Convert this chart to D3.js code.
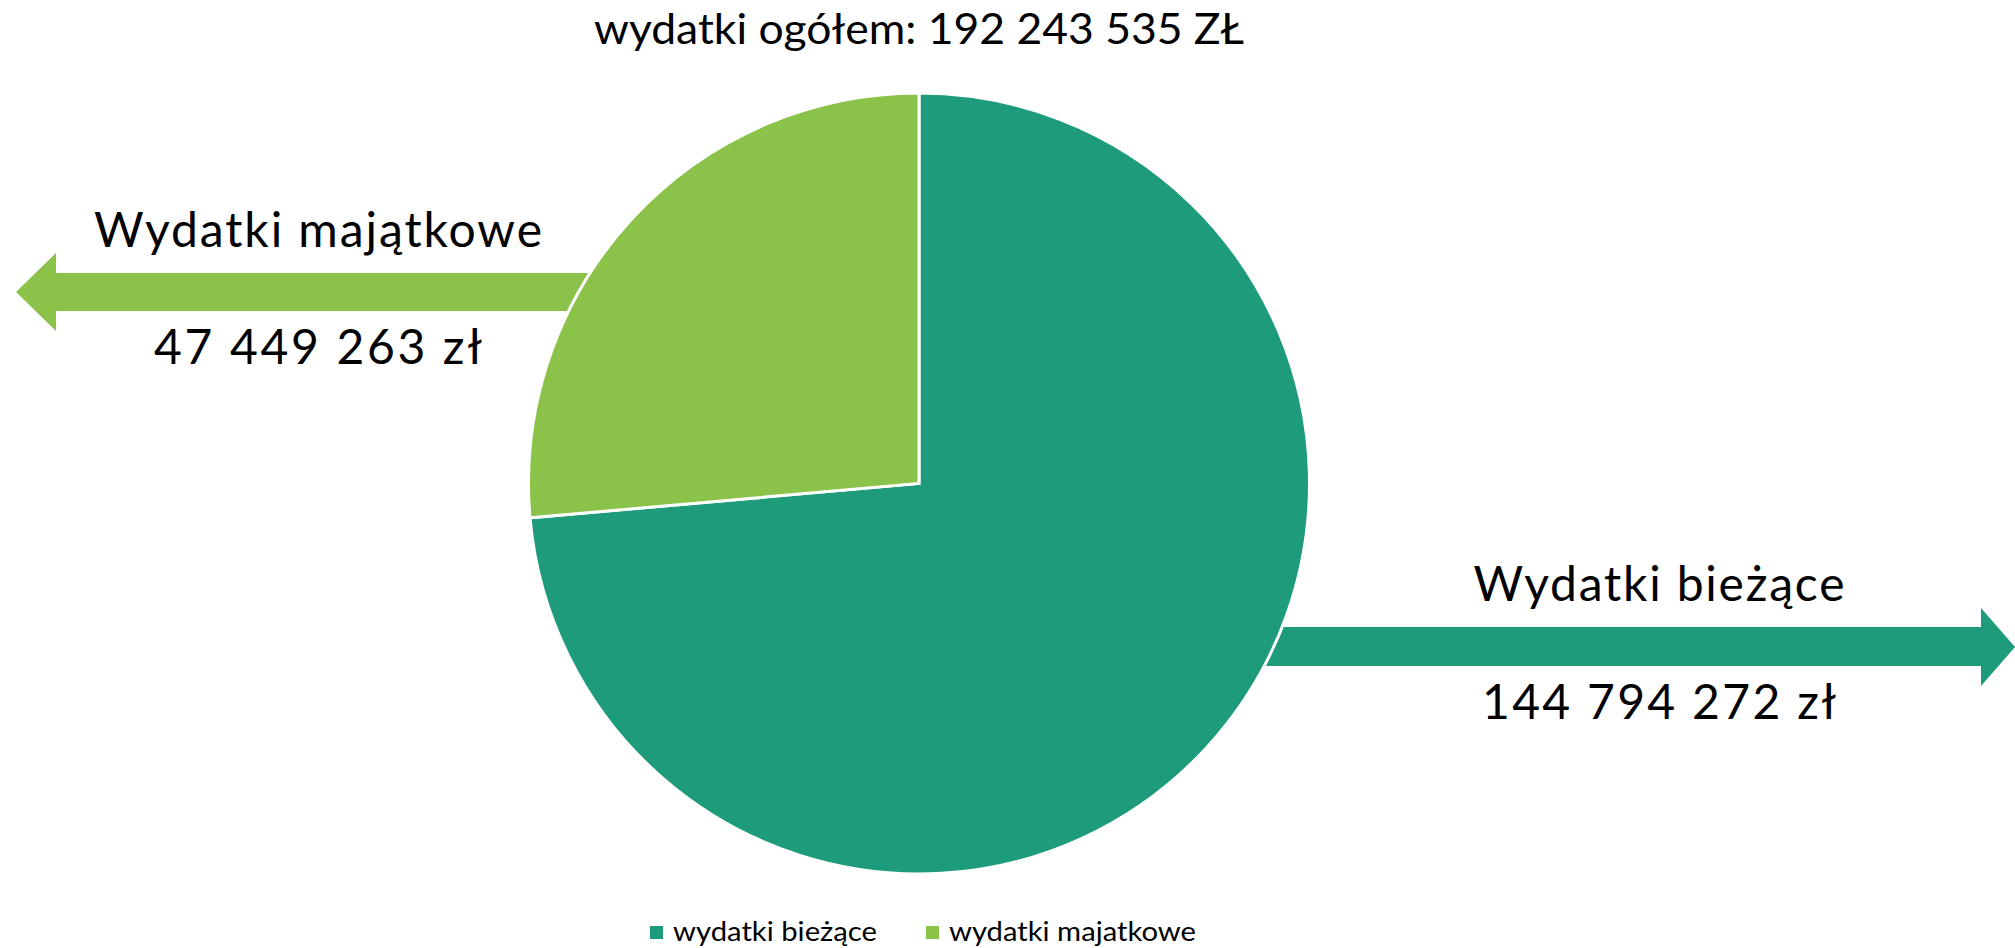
<!DOCTYPE html>
<html>
<head>
<meta charset="utf-8">
<script src="https://cdn.jsdelivr.net/npm/d3@7"></script>
<style>
  body { margin: 0; background: #fff; }
  text { font-family: Lato, "Open Sans", sans-serif; fill: #000; }
</style>
</head>
<body>
<div id="chart-area"></div>
<script>
// data
const categories = ['wydatki bieżące', 'wydatki majatkowe'];
const arrowLabels = ['Wydatki bieżące', 'Wydatki majątkowe'];
const values = [144794272, 47449263];
const total = 192243535;
// slice shares as drawn in the picture (%), they differ slightly from the labels
const pieShares = [73.6, 26.4];
const colors = ['#1e9b7a', '#8bc249'];

const width = 2015, height = 948;

const locale = d3.formatLocale({ decimal: ',', thousands: ' ', grouping: [3], currency: ['', ' zł'] });
const format = locale.format(',d');

let svg = d3.select('#chart-area')
  .append('svg')
  .attr('width', width)
  .attr('height', height);

const cx = 919, cy = 483.5, radius = 390.5;

// arrows sit under the pie
const arrows = [
  { dir: 1, y0: 627, y1: 666, hy0: 608, hy1: 686, from: 1250, base: 1981, tip: 2015 },
  { dir: -1, y0: 273, y1: 311, hy0: 253, hy1: 331, from: 600, base: 56, tip: 16 }
];

svg.append('g')
  .selectAll('path')
  .data(arrows)
  .join('path')
  .attr('fill', (d, i) => colors[i])
  .attr('d', d => {
    const mid = (d.hy0 + d.hy1) / 2;
    return d3.line()([
      [d.from, d.y0], [d.base, d.y0], [d.base, d.hy0], [d.tip, mid],
      [d.base, d.hy1], [d.base, d.y1], [d.from, d.y1]
    ]) + 'Z';
  });

let pie = d3.pie().sort(null).value(d => d);
let arc = d3.arc().innerRadius(0).outerRadius(radius);

svg.append('g')
  .attr('transform', `translate(${cx}, ${cy})`)
  .selectAll('path')
  .data(pie(pieShares))
  .join('path')
  .attr('d', arc)
  .attr('fill', (d, i) => colors[i])
  .attr('stroke', '#fff')
  .attr('stroke-width', 3)
  .attr('stroke-linejoin', 'miter');

// title
svg.append('text')
  .attr('x', cx)
  .attr('y', 44)
  .attr('text-anchor', 'middle')
  .style('font-size', '42px')
  .attr('textLength', 650)
  .attr('lengthAdjust', 'spacingAndGlyphs')
  .text(`wydatki ogółem: ${format(total)} ZŁ`);

// arrow labels
const labelPos = [
  { x: 1659, nameY: 601, valY: 719, nameW: 371, valW: 354 },
  { x: 318, nameY: 247, valY: 364, nameW: 448, valW: 328 }
];

labelPos.forEach((p, i) => {
  svg.append('text')
    .attr('x', p.x).attr('y', p.nameY)
    .attr('text-anchor', 'middle')
    .style('font-size', '48px')
    .attr('textLength', p.nameW)
    .attr('lengthAdjust', 'spacing')
    .text(arrowLabels[i]);
  svg.append('text')
    .attr('x', p.x).attr('y', p.valY)
    .attr('text-anchor', 'middle')
    .style('font-size', '48px')
    .attr('textLength', p.valW)
    .attr('lengthAdjust', 'spacing')
    .text(format(values[i]) + ' zł');
});

// legend
const legendX = [650, 926];
const legendW = [204, 247];
let legend = svg.append('g')
  .selectAll('g')
  .data(categories)
  .join('g')
  .attr('transform', (d, i) => `translate(${legendX[i]}, 926)`);

legend.append('rect')
  .attr('width', 13).attr('height', 13)
  .attr('fill', (d, i) => colors[i]);

legend.append('text')
  .attr('x', 23).attr('y', 15)
  .style('font-size', '27px')
  .attr('textLength', (d, i) => legendW[i])
  .attr('lengthAdjust', 'spacingAndGlyphs')
  .text(d => d);
</script>
</body>
</html>
